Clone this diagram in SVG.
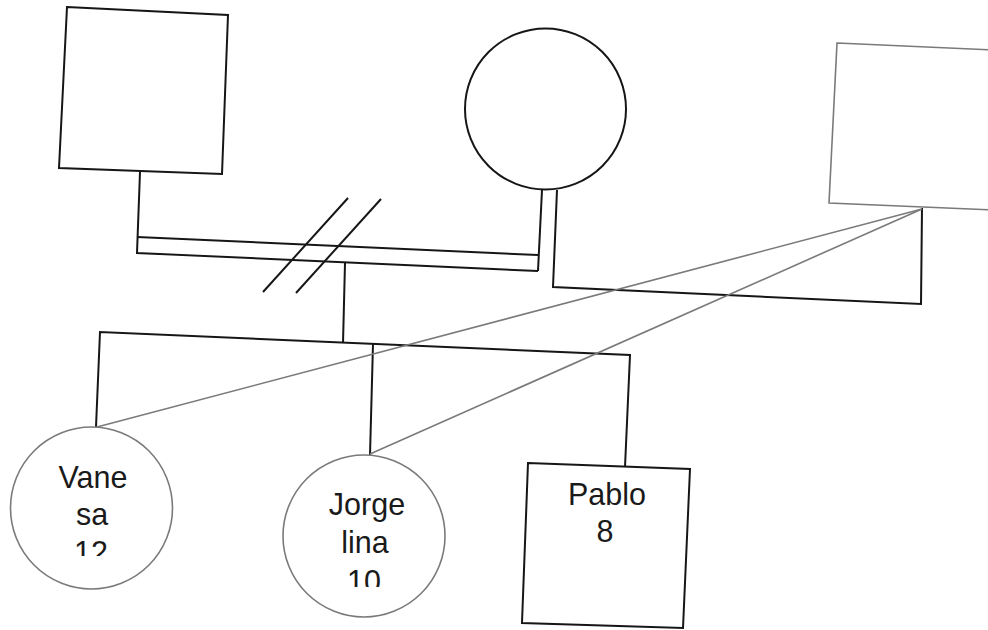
<svg xmlns="http://www.w3.org/2000/svg" width="988" height="630" viewBox="0 0 988 630">
<style>
.k{fill:none;stroke:#161616;stroke-width:2;stroke-linejoin:miter}
.g{fill:none;stroke:#7a7a7a;stroke-width:1.6}
.t{font-family:"Liberation Sans",Arial,sans-serif;font-size:30.5px;fill:#1a1a1a;text-anchor:middle}
</style>
<defs>
<clipPath id="cv"><rect x="0" y="400" width="300" height="156"/></clipPath>
<clipPath id="cj"><rect x="270" y="400" width="200" height="187"/></clipPath>
</defs>
<rect width="988" height="630" fill="#fff"/>
<g id="connectors">
<polyline class="k" points="140,172 137,253 538,271"/>
<polyline class="k" points="137,237 538,255"/>
<polyline class="k" points="542,190 538,271"/>
<polyline class="k" points="557,190 553,287 921,304 922,208"/>
<line class="k" x1="263" y1="292" x2="348" y2="198"/>
<line class="k" x1="296" y1="293" x2="381" y2="199"/>
<line class="k" x1="345" y1="263" x2="343" y2="343"/>
<polyline class="k" points="96,427 100,332 630,355 625,467"/>
<line class="k" x1="373" y1="344" x2="370" y2="455"/>
<line class="g" x1="922" y1="209" x2="97" y2="427"/>
<line class="g" x1="922" y1="209" x2="370" y2="454"/>
</g>
<g id="father">
<polygon class="k" points="67,7 228,15 222,174 59,168"/>
</g>
<g id="mother">
<circle class="k" cx="545.5" cy="109" r="80.5"/>
</g>
<g id="partner">
<polygon class="g" points="837,43 995,50 995,210 829,203"/>
</g>
<g id="vanesa">
<circle class="g" cx="91.5" cy="508" r="81"/>
<g clip-path="url(#cv)">
<text class="t" x="93" y="488">Vane</text>
<text class="t" x="92" y="525">sa</text>
<text class="t" x="91" y="563">12</text>
</g>
</g>
<g id="jorgelina">
<circle class="g" cx="364" cy="536" r="81"/>
<g clip-path="url(#cj)">
<text class="t" x="367" y="515">Jorge</text>
<text class="t" x="365" y="553">lina</text>
<text class="t" x="364" y="592">10</text>
</g>
</g>
<g id="pablo">
<polygon class="k" points="528,463 690,469 683,628 522,623"/>
<text class="t" x="607" y="505">Pablo</text>
<text class="t" x="605" y="542">8</text>
</g>
</svg>
